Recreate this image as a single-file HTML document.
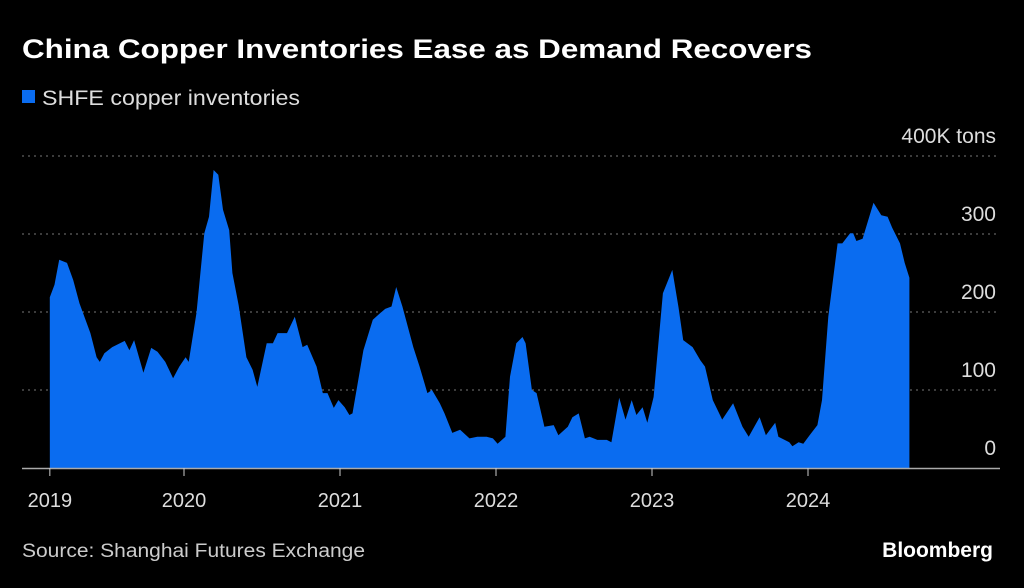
<!DOCTYPE html>
<html><head><meta charset="utf-8"><style>
body{margin:0;background:#000;width:1024px;height:583px;overflow:hidden;font-family:"Liberation Sans",sans-serif}
</style></head><body>
<svg width="1024" height="583">
<text x="22" y="58" fill="#fff" font-size="27" font-weight="bold" textLength="790" lengthAdjust="spacingAndGlyphs">China Copper Inventories Ease as Demand Recovers</text>
<rect x="22" y="90" width="13" height="13" fill="#0a6cf0"/>
<text x="42" y="105" fill="#ddd" font-size="21" textLength="258" lengthAdjust="spacingAndGlyphs">SHFE copper inventories</text>
<g id="grid"></g><g id="area"></g><g id="xaxis"></g>
<text x="22" y="557" fill="#ccc" font-size="19" textLength="343" lengthAdjust="spacingAndGlyphs">Source: Shanghai Futures Exchange</text>
<text x="993" y="557" fill="#fff" font-size="21" font-weight="bold" text-anchor="end">Bloomberg</text>
</svg>
<script>
const dates=[2019.14,2019.17,2019.20,2019.25,2019.29,2019.33,2019.40,2019.44,2019.46,2019.49,2019.54,2019.62,2019.65,2019.68,2019.74,2019.79,2019.83,2019.88,2019.93,2019.97,2020.01,2020.03,2020.08,2020.13,2020.16,2020.19,2020.22,2020.25,2020.29,2020.31,2020.35,2020.40,2020.44,2020.47,2020.53,2020.57,2020.60,2020.66,2020.71,2020.76,2020.79,2020.85,2020.89,2020.92,2020.96,2020.99,2021.03,2021.06,2021.08,2021.15,2021.21,2021.26,2021.29,2021.33,2021.36,2021.40,2021.47,2021.51,2021.56,2021.59,2021.64,2021.67,2021.72,2021.77,2021.83,2021.88,2021.94,2021.98,2022.01,2022.06,2022.09,2022.13,2022.17,2022.19,2022.23,2022.26,2022.31,2022.37,2022.40,2022.46,2022.49,2022.53,2022.57,2022.60,2022.65,2022.71,2022.74,2022.79,2022.83,2022.87,2022.90,2022.94,2022.97,2023.01,2023.07,2023.13,2023.17,2023.20,2023.26,2023.31,2023.34,2023.39,2023.45,2023.52,2023.58,2023.62,2023.69,2023.73,2023.79,2023.81,2023.88,2023.90,2023.94,2023.97,2024.01,2024.06,2024.09,2024.13,2024.19,2024.22,2024.27,2024.29,2024.31,2024.35,2024.42,2024.47,2024.51,2024.54,2024.59,2024.62,2024.65];
const values=[219,235,267,263,241,211,173,142,136,147,155,163,151,164,122,154,149,136,115,130,142,136,199,301,322,382,376,331,305,250,209,142,126,104,160,160,173,173,194,155,158,130,96,96,77,87,78,68,70,151,190,199,204,207,232,207,155,130,96,100,83,70,45,49,38,40,40,38,31,40,117,160,168,160,100,96,53,55,42,53,65,70,38,40,36,36,33,90,62,87,68,78,58,91,224,254,206,164,155,138,130,87,62,83,53,40,65,42,58,40,33,28,33,31,42,55,87,194,288,288,301,301,291,294,340,324,322,308,288,263,244];
const yTicks=[0,100,200,300,400];
const yTickLabels=["0","100","200","300","400K tons"];
const xTickDates=[2019.14,2020,2021,2022,2023,2024];
const xTickLabels=["2019","2020","2021","2022","2023","2024"];
const NS="http://www.w3.org/2000/svg";
const X=t=>184+(t-2020)*156, Y=v=>468-v*0.78;
const grid=document.getElementById('grid');
yTicks.forEach((v,i)=>{
 if(v>0){const l=document.createElementNS(NS,'line');
 l.setAttribute('x1',22);l.setAttribute('x2',1000);l.setAttribute('y1',Y(v));l.setAttribute('y2',Y(v));
 l.setAttribute('stroke','#777');l.setAttribute('stroke-dasharray','2,4');
 
 
 grid.appendChild(l);}
 const t=document.createElementNS(NS,'text');
 t.setAttribute('x',996);t.setAttribute('y',Y(v)-13);t.setAttribute('fill','#ddd');t.setAttribute('font-size','21');t.setAttribute('text-anchor','end');
 t.textContent=yTickLabels[i];
 
 
 grid.appendChild(t);
});
let d='M'+X(dates[0])+','+Y(0);
dates.forEach((t,i)=>{d+=' L'+X(t).toFixed(1)+','+Y(values[i]).toFixed(1);});
d+=' L'+X(dates[dates.length-1])+','+Y(0)+' Z';
const p=document.createElementNS(NS,'path');
p.setAttribute('d',d);p.setAttribute('fill','#0a6cf0');


document.getElementById('area').appendChild(p);
const xa=document.getElementById('xaxis');
const base=document.createElementNS(NS,'line');
base.setAttribute('x1',22);base.setAttribute('x2',1000);base.setAttribute('y1',468.5);base.setAttribute('y2',468.5);base.setAttribute('stroke','#aaa');base.setAttribute('stroke-width','1.5');


xa.appendChild(base);
xTickDates.forEach((t,i)=>{
 const l=document.createElementNS(NS,'line');
 l.setAttribute('x1',X(t));l.setAttribute('x2',X(t));l.setAttribute('y1',468);l.setAttribute('y2',476);l.setAttribute('stroke','#ccc');
 
 
 xa.appendChild(l);
 const tx=document.createElementNS(NS,'text');
 tx.setAttribute('x',X(t));tx.setAttribute('y',507);tx.setAttribute('fill','#ddd');tx.setAttribute('font-size','20');tx.setAttribute('text-anchor','middle');
 tx.textContent=xTickLabels[i];
 
 
 xa.appendChild(tx);
});
</script>
</body></html>
